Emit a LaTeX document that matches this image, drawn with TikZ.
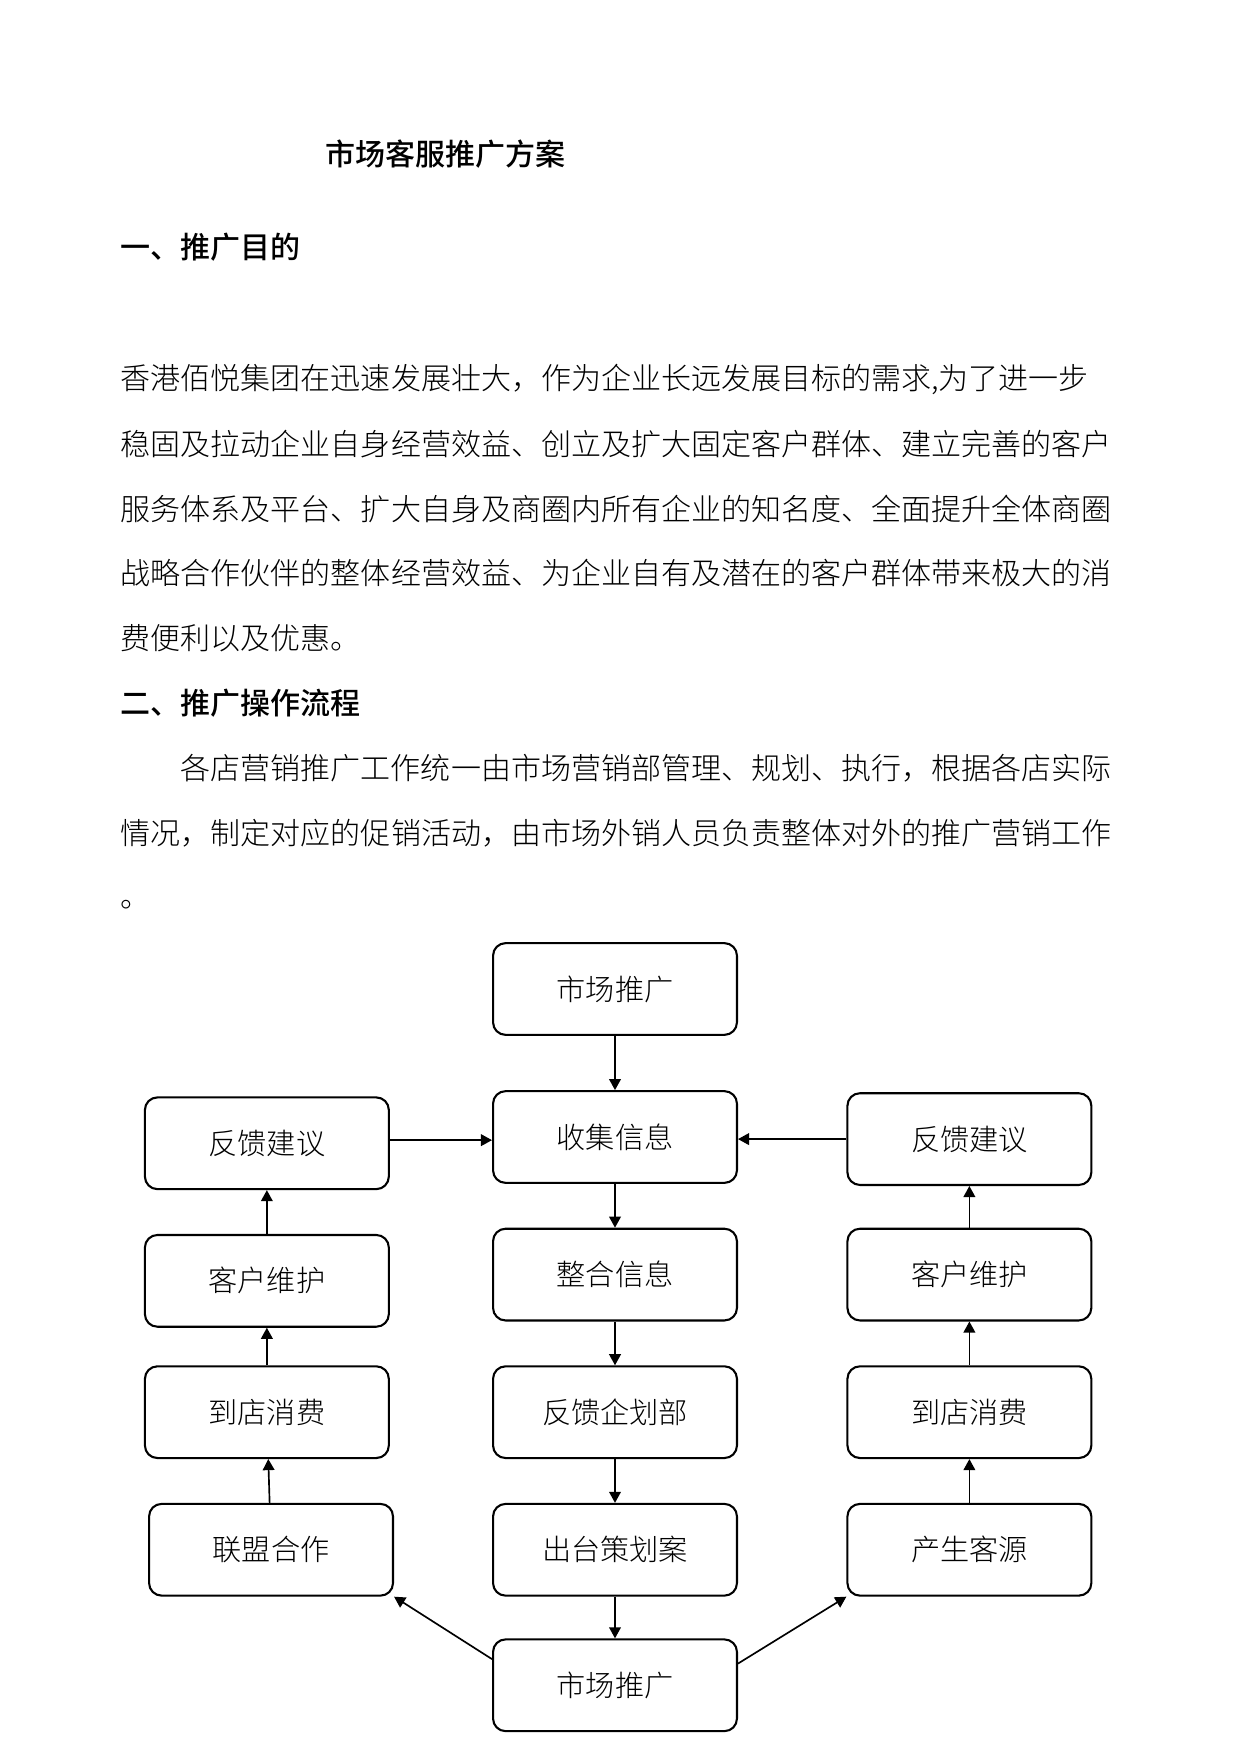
\documentclass[tikz,border=0pt]{standalone}
\usepackage{fontspec}
\setmainfont{Noto Sans CJK SC}[UprightFont=* Light, BoldFont=* Medium]
\usetikzlibrary{arrows.meta,positioning}

\begin{document}
\begin{tikzpicture}[x=0.4797pt, y=-0.4797pt,
  box/.style={draw, line width=1pt, rectangle, rounded corners=6pt, minimum width=117pt, minimum height=44pt, align=center, font=\fontsize{14pt}{16pt}\selectfont},
  txt/.style={anchor=base west, inner sep=0pt, font=\fontsize{14.4pt}{16pt}\selectfont},
  head/.style={anchor=base west, inner sep=0pt, font=\fontsize{14.4pt}{16pt}\selectfont\bfseries},
  >={Triangle[length=5.3pt, width=5.6pt]}, every path/.style={line width=0.8pt}]

\useasboundingbox (0,0) rectangle (1241,1754);

\node[head] (title) at (325,165) {市场客服推广方案};
\node[head] (sec1) at (120,258) {一、推广目的};
\node[txt] (p1) at (120,389) {香港佰悦集团在迅速发展壮大，作为企业长远发展目标的需求,为了进一步};
\node[txt] (p2) at (120,455) {稳固及拉动企业自身经营效益、创立及扩大固定客户群体、建立完善的客户};
\node[txt] (p3) at (120,520) {服务体系及平台、扩大自身及商圈内所有企业的知名度、全面提升全体商圈};
\node[txt] (p4) at (120,584) {战略合作伙伴的整体经营效益、为企业自有及潜在的客户群体带来极大的消};
\node[txt] (p5) at (120,649) {费便利以及优惠。};
\node[head] (sec2) at (120,714) {二、推广操作流程};
\node[txt] (q1) at (180,779) {各店营销推广工作统一由市场营销部管理、规划、执行，根据各店实际};
\node[txt] (q2) at (120,844) {情况，制定对应的促销活动，由市场外销人员负责整体对外的推广营销工作};
\node[txt] (q3) at (120,907) {。};

\node[box] (collect) at (615,1137) {收集信息};
\node[box] (market) [above=26pt of collect] {市场推广};
\node[box] (merge) [below=21pt of collect] {整合信息};
\node[box] (plandept) [below=21pt of merge] {反馈企划部};
\node[box] (scheme) [below=21pt of plandept] {出台策划案};
\node[box] (promo) [below=20pt of scheme] {市场推广};

\node[box] (lfeed) [left=49pt of collect, yshift=-3pt] {反馈建议};
\node[box] (lcare) [left=49pt of merge, yshift=-3pt] {客户维护};
\node[box] (lshop) [left=49pt of plandept] {到店消费};
\node[box] (ally) [left=47pt of scheme] {联盟合作};

\node[box] (rfeed) [right=52pt of collect, yshift=-1pt] {反馈建议};
\node[box] (rcare) [right=52pt of merge] {客户维护};
\node[box] (rshop) [right=52pt of plandept] {到店消费};
\node[box] (source) [right=52pt of scheme] {产生客源};

\draw[->] (market) -- (collect);
\draw[->] (collect) -- (merge);
\draw[->] (merge) -- (plandept);
\draw[->] (plandept) -- (scheme);
\draw[->] (scheme) -- (promo);
\draw[->] ([yshift=1.5pt]lfeed.east) -- ([yshift=1.5pt]lfeed.east -| collect.west);
\draw[->] (rfeed.west) -- (rfeed.west -| collect.east);
\draw[->] (ally) -- (lshop);
\draw[->] (lshop) -- (lcare);
\draw[->] (lcare) -- (lfeed);
\draw[->] (source) -- (rshop);
\draw[->] (rshop) -- (rcare);
\draw[->] (rcare) -- (rfeed);
\draw[->] (promo.168) -- (ally.south east);
\draw[->] (promo.10) -- (source.south west);

\end{tikzpicture}
\end{document}
